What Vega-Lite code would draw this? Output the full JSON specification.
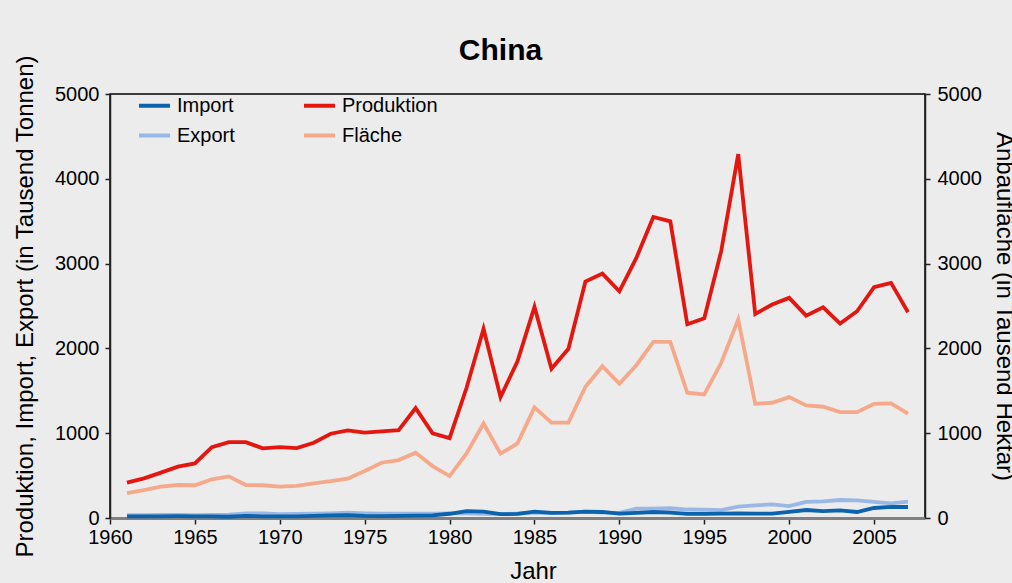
{
  "$schema": "https://vega.github.io/schema/vega-lite/v6.json",
  "width": 815,
  "height": 424,
  "autosize": {"type": "none"},
  "padding": {"left": 110, "top": 94, "right": 87, "bottom": 65},
  "background": "#ececec",
  "config": {
    "font": "Liberation Sans",
    "view": {"stroke": "#000000", "strokeWidth": 1.5, "fill": "#ececec"},
    "axis": {"grid": false, "labelFont": "Liberation Sans", "titleFont": "Liberation Sans", "labelFontSize": 20, "titleFontSize": 24, "titleFontWeight": "normal", "labelColor": "#000000", "titleColor": "#000000", "tickColor": "#222222", "domainColor": "#222222", "domainWidth": 1.5, "tickWidth": 1.5, "labelFlush": false, "labelOverlap": false, "labelBound": false}
  },
  "title": {"text": "China", "fontSize": 30, "fontWeight": "bold", "font": "Liberation Sans", "color": "#000000", "dx": -17, "offset": -11},
  "data": {"values": [
    {"Jahr":1961,"Serie":"Export","Wert":35},{"Jahr":1962,"Serie":"Export","Wert":35},{"Jahr":1963,"Serie":"Export","Wert":38},{"Jahr":1964,"Serie":"Export","Wert":38},{"Jahr":1965,"Serie":"Export","Wert":35},{"Jahr":1966,"Serie":"Export","Wert":38},{"Jahr":1967,"Serie":"Export","Wert":40},{"Jahr":1968,"Serie":"Export","Wert":55},{"Jahr":1969,"Serie":"Export","Wert":55},{"Jahr":1970,"Serie":"Export","Wert":45},{"Jahr":1971,"Serie":"Export","Wert":48},{"Jahr":1972,"Serie":"Export","Wert":52},{"Jahr":1973,"Serie":"Export","Wert":55},{"Jahr":1974,"Serie":"Export","Wert":62},{"Jahr":1975,"Serie":"Export","Wert":55},{"Jahr":1976,"Serie":"Export","Wert":50},{"Jahr":1977,"Serie":"Export","Wert":52},{"Jahr":1978,"Serie":"Export","Wert":50},{"Jahr":1979,"Serie":"Export","Wert":50},{"Jahr":1980,"Serie":"Export","Wert":55},{"Jahr":1981,"Serie":"Export","Wert":55},{"Jahr":1982,"Serie":"Export","Wert":50},{"Jahr":1983,"Serie":"Export","Wert":45},{"Jahr":1984,"Serie":"Export","Wert":52},{"Jahr":1985,"Serie":"Export","Wert":63},{"Jahr":1986,"Serie":"Export","Wert":60},{"Jahr":1987,"Serie":"Export","Wert":63},{"Jahr":1988,"Serie":"Export","Wert":75},{"Jahr":1989,"Serie":"Export","Wert":63},{"Jahr":1990,"Serie":"Export","Wert":60},{"Jahr":1991,"Serie":"Export","Wert":111},{"Jahr":1992,"Serie":"Export","Wert":111},{"Jahr":1993,"Serie":"Export","Wert":115},{"Jahr":1994,"Serie":"Export","Wert":100},{"Jahr":1995,"Serie":"Export","Wert":97},{"Jahr":1996,"Serie":"Export","Wert":94},{"Jahr":1997,"Serie":"Export","Wert":134},{"Jahr":1998,"Serie":"Export","Wert":150},{"Jahr":1999,"Serie":"Export","Wert":161},{"Jahr":2000,"Serie":"Export","Wert":141},{"Jahr":2001,"Serie":"Export","Wert":189},{"Jahr":2002,"Serie":"Export","Wert":197},{"Jahr":2003,"Serie":"Export","Wert":212},{"Jahr":2004,"Serie":"Export","Wert":209},{"Jahr":2005,"Serie":"Export","Wert":189},{"Jahr":2006,"Serie":"Export","Wert":173},{"Jahr":2007,"Serie":"Export","Wert":193},
    {"Jahr":1961,"Serie":"Import","Wert":20},{"Jahr":1962,"Serie":"Import","Wert":18},{"Jahr":1963,"Serie":"Import","Wert":20},{"Jahr":1964,"Serie":"Import","Wert":22},{"Jahr":1965,"Serie":"Import","Wert":20},{"Jahr":1966,"Serie":"Import","Wert":18},{"Jahr":1967,"Serie":"Import","Wert":15},{"Jahr":1968,"Serie":"Import","Wert":25},{"Jahr":1969,"Serie":"Import","Wert":20},{"Jahr":1970,"Serie":"Import","Wert":18},{"Jahr":1971,"Serie":"Import","Wert":20},{"Jahr":1972,"Serie":"Import","Wert":25},{"Jahr":1973,"Serie":"Import","Wert":30},{"Jahr":1974,"Serie":"Import","Wert":35},{"Jahr":1975,"Serie":"Import","Wert":25},{"Jahr":1976,"Serie":"Import","Wert":22},{"Jahr":1977,"Serie":"Import","Wert":25},{"Jahr":1978,"Serie":"Import","Wert":28},{"Jahr":1979,"Serie":"Import","Wert":30},{"Jahr":1980,"Serie":"Import","Wert":50},{"Jahr":1981,"Serie":"Import","Wert":80},{"Jahr":1982,"Serie":"Import","Wert":75},{"Jahr":1983,"Serie":"Import","Wert":45},{"Jahr":1984,"Serie":"Import","Wert":48},{"Jahr":1985,"Serie":"Import","Wert":75},{"Jahr":1986,"Serie":"Import","Wert":60},{"Jahr":1987,"Serie":"Import","Wert":63},{"Jahr":1988,"Serie":"Import","Wert":75},{"Jahr":1989,"Serie":"Import","Wert":71},{"Jahr":1990,"Serie":"Import","Wert":52},{"Jahr":1991,"Serie":"Import","Wert":60},{"Jahr":1992,"Serie":"Import","Wert":71},{"Jahr":1993,"Serie":"Import","Wert":63},{"Jahr":1994,"Serie":"Import","Wert":48},{"Jahr":1995,"Serie":"Import","Wert":48},{"Jahr":1996,"Serie":"Import","Wert":52},{"Jahr":1997,"Serie":"Import","Wert":55},{"Jahr":1998,"Serie":"Import","Wert":52},{"Jahr":1999,"Serie":"Import","Wert":52},{"Jahr":2000,"Serie":"Import","Wert":71},{"Jahr":2001,"Serie":"Import","Wert":94},{"Jahr":2002,"Serie":"Import","Wert":82},{"Jahr":2003,"Serie":"Import","Wert":90},{"Jahr":2004,"Serie":"Import","Wert":71},{"Jahr":2005,"Serie":"Import","Wert":118},{"Jahr":2006,"Serie":"Import","Wert":130},{"Jahr":2007,"Serie":"Import","Wert":130},
    {"Jahr":1961,"Serie":"Produktion","Wert":417},{"Jahr":1962,"Serie":"Produktion","Wert":468},{"Jahr":1963,"Serie":"Produktion","Wert":535},{"Jahr":1964,"Serie":"Produktion","Wert":605},{"Jahr":1965,"Serie":"Produktion","Wert":644},{"Jahr":1966,"Serie":"Produktion","Wert":836},{"Jahr":1967,"Serie":"Produktion","Wert":895},{"Jahr":1968,"Serie":"Produktion","Wert":895},{"Jahr":1969,"Serie":"Produktion","Wert":821},{"Jahr":1970,"Serie":"Produktion","Wert":836},{"Jahr":1971,"Serie":"Produktion","Wert":825},{"Jahr":1972,"Serie":"Produktion","Wert":888},{"Jahr":1973,"Serie":"Produktion","Wert":994},{"Jahr":1974,"Serie":"Produktion","Wert":1033},{"Jahr":1975,"Serie":"Produktion","Wert":1006},{"Jahr":1976,"Serie":"Produktion","Wert":1021},{"Jahr":1977,"Serie":"Produktion","Wert":1037},{"Jahr":1978,"Serie":"Produktion","Wert":1296},{"Jahr":1979,"Serie":"Produktion","Wert":998},{"Jahr":1980,"Serie":"Produktion","Wert":942},{"Jahr":1981,"Serie":"Produktion","Wert":1536},{"Jahr":1982,"Serie":"Produktion","Wert":2231},{"Jahr":1983,"Serie":"Produktion","Wert":1425},{"Jahr":1984,"Serie":"Produktion","Wert":1849},{"Jahr":1985,"Serie":"Produktion","Wert":2490},{"Jahr":1986,"Serie":"Produktion","Wert":1760},{"Jahr":1987,"Serie":"Produktion","Wert":1995},{"Jahr":1988,"Serie":"Produktion","Wert":2788},{"Jahr":1989,"Serie":"Produktion","Wert":2882},{"Jahr":1990,"Serie":"Produktion","Wert":2674},{"Jahr":1991,"Serie":"Produktion","Wert":3067},{"Jahr":1992,"Serie":"Produktion","Wert":3550},{"Jahr":1993,"Serie":"Produktion","Wert":3498},{"Jahr":1994,"Serie":"Produktion","Wert":2285},{"Jahr":1995,"Serie":"Produktion","Wert":2355},{"Jahr":1996,"Serie":"Produktion","Wert":3150},{"Jahr":1997,"Serie":"Produktion","Wert":4291},{"Jahr":1998,"Serie":"Produktion","Wert":2407},{"Jahr":1999,"Serie":"Produktion","Wert":2517},{"Jahr":2000,"Serie":"Produktion","Wert":2596},{"Jahr":2001,"Serie":"Produktion","Wert":2387},{"Jahr":2002,"Serie":"Produktion","Wert":2485},{"Jahr":2003,"Serie":"Produktion","Wert":2293},{"Jahr":2004,"Serie":"Produktion","Wert":2438},{"Jahr":2005,"Serie":"Produktion","Wert":2721},{"Jahr":2006,"Serie":"Produktion","Wert":2773},{"Jahr":2007,"Serie":"Produktion","Wert":2426},
    {"Jahr":1961,"Serie":"Fläche","Wert":294},{"Jahr":1962,"Serie":"Fläche","Wert":330},{"Jahr":1963,"Serie":"Fläche","Wert":370},{"Jahr":1964,"Serie":"Fläche","Wert":389},{"Jahr":1965,"Serie":"Fläche","Wert":386},{"Jahr":1966,"Serie":"Fläche","Wert":456},{"Jahr":1967,"Serie":"Fläche","Wert":491},{"Jahr":1968,"Serie":"Fläche","Wert":389},{"Jahr":1969,"Serie":"Fläche","Wert":386},{"Jahr":1970,"Serie":"Fläche","Wert":370},{"Jahr":1971,"Serie":"Fläche","Wert":378},{"Jahr":1972,"Serie":"Fläche","Wert":409},{"Jahr":1973,"Serie":"Fläche","Wert":434},{"Jahr":1974,"Serie":"Fläche","Wert":464},{"Jahr":1975,"Serie":"Fläche","Wert":554},{"Jahr":1976,"Serie":"Fläche","Wert":652},{"Jahr":1977,"Serie":"Fläche","Wert":683},{"Jahr":1978,"Serie":"Fläche","Wert":770},{"Jahr":1979,"Serie":"Fläche","Wert":612},{"Jahr":1980,"Serie":"Fläche","Wert":495},{"Jahr":1981,"Serie":"Fläche","Wert":762},{"Jahr":1982,"Serie":"Fläche","Wert":1115},{"Jahr":1983,"Serie":"Fläche","Wert":758},{"Jahr":1984,"Serie":"Fläche","Wert":880},{"Jahr":1985,"Serie":"Fläche","Wert":1305},{"Jahr":1986,"Serie":"Fläche","Wert":1124},{"Jahr":1987,"Serie":"Fläche","Wert":1124},{"Jahr":1988,"Serie":"Fläche","Wert":1548},{"Jahr":1989,"Serie":"Fläche","Wert":1790},{"Jahr":1990,"Serie":"Fläche","Wert":1583},{"Jahr":1991,"Serie":"Fläche","Wert":1802},{"Jahr":1992,"Serie":"Fläche","Wert":2078},{"Jahr":1993,"Serie":"Fläche","Wert":2078},{"Jahr":1994,"Serie":"Fläche","Wert":1477},{"Jahr":1995,"Serie":"Fläche","Wert":1457},{"Jahr":1996,"Serie":"Fläche","Wert":1830},{"Jahr":1997,"Serie":"Fläche","Wert":2340},{"Jahr":1998,"Serie":"Fläche","Wert":1347},{"Jahr":1999,"Serie":"Fläche","Wert":1359},{"Jahr":2000,"Serie":"Fläche","Wert":1425},{"Jahr":2001,"Serie":"Fläche","Wert":1327},{"Jahr":2002,"Serie":"Fläche","Wert":1312},{"Jahr":2003,"Serie":"Fläche","Wert":1249},{"Jahr":2004,"Serie":"Fläche","Wert":1249},{"Jahr":2005,"Serie":"Fläche","Wert":1347},{"Jahr":2006,"Serie":"Fläche","Wert":1351},{"Jahr":2007,"Serie":"Fläche","Wert":1230}
  ]},
  "encoding": {
    "x": {"field": "Jahr", "type": "quantitative",
      "scale": {"domain": [1960, 2008], "nice": false, "zero": false},
      "axis": {"values": [1960,1965,1970,1975,1980,1985,1990,1995,2000,2005], "format": "d", "title": "Jahr", "domainColor": "#808080", "domainWidth": 3, "tickSize": 6, "labelPadding": 3, "titlePadding": 12, "titleX": 423}},
    "color": {"field": "Serie", "type": "nominal",
      "scale": {"domain": ["Import", "Export", "Produktion", "Fläche"], "range": ["#0b62ad", "#9ab8e5", "#e3170f", "#f6a98a"]},
      "legend": {"orient": "none", "legendX": 27, "legendY": -6, "columns": 2, "title": null, "symbolType": "stroke", "symbolSize": 961, "symbolStrokeWidth": 4, "labelFontSize": 20, "labelFont": "Liberation Sans", "labelColor": "#000000", "labelOffset": 5, "columnPadding": 61, "rowPadding": 2, "padding": 0}}
  },
  "layer": [
    {
      "transform": [{"filter": "datum.Serie !== 'Fläche'"}],
      "mark": {"type": "line", "strokeWidth": 3.8},
      "encoding": {
        "y": {"field": "Wert", "type": "quantitative",
          "scale": {"domain": [0, 5000], "nice": false},
          "axis": {"orient": "left", "values": [0,1000,2000,3000,4000,5000], "format": "d", "title": "Produktion, Import, Export (in Tausend Tonnen)", "tickSize": 5, "labelPadding": 6, "titlePadding": 17}}
      }
    },
    {
      "transform": [{"filter": "datum.Serie === 'Fläche'"}],
      "mark": {"type": "line", "strokeWidth": 3.8},
      "encoding": {
        "y": {"field": "Wert", "type": "quantitative",
          "scale": {"domain": [0, 5000], "nice": false},
          "axis": {"orient": "right", "values": [0,1000,2000,3000,4000,5000], "format": "d", "title": "Anbaufläche (in Tausend Hektar)", "tickSize": 5, "labelPadding": 7, "titlePadding": 10}}
      }
    }
  ],
  "resolve": {"scale": {"y": "independent"}}
}
